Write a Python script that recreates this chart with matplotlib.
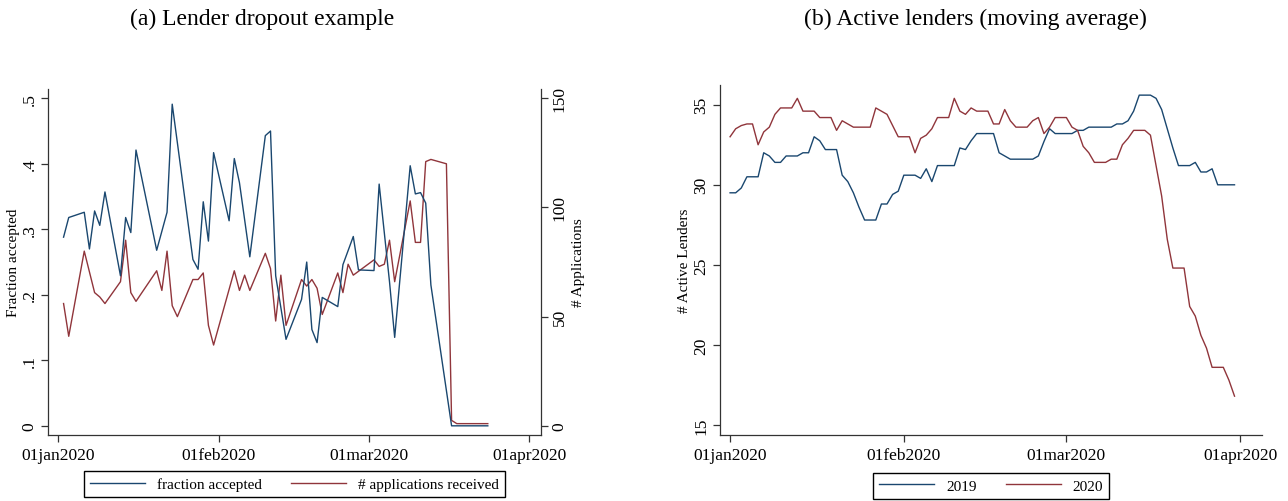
import matplotlib
matplotlib.use("Agg")
import matplotlib.pyplot as plt
import matplotlib.dates as mdates
import numpy as np

plt.rcParams['font.family'] = ['Liberation Serif', 'DejaVu Serif']

NAVY = "#1a476f"
MAROON = "#90353b"

start = np.datetime64("2020-01-01")

# panel (a): days since 01jan2020
frac_days = [1, 2, 5, 6, 7, 8, 9, 12, 13, 14, 15, 19, 21, 22, 23, 26, 27, 28, 29, 30,
             33, 34, 35, 37, 40, 41, 42, 44, 47, 48, 49, 50, 51, 54, 55, 57, 58, 61, 62, 64,
             65, 68, 69, 70, 71, 72, 76, 83]
frac_vals = [.288, .318, .326, .27, .328, .306, .357, .229, .318, .295,
             .421, .268, .326, .491, .432, .254, .239, .342, .282, .417,
             .313, .408, .371, .258, .443, .450, .229, .132, .193, .250,
             .147, .127, .196, .182, .246, .289, .238, .237, .369, .220,
             .135, .397, .354, .356, .340, .215, 0.0, 0.0]
app_days = [1, 2, 5, 7, 8, 9, 12, 13, 14, 15, 19, 20, 21, 22, 23, 26, 27, 28, 29, 30,
            34, 35, 36, 37, 40, 41, 42, 43, 44, 47, 48, 49, 50, 51, 54, 55, 56, 57, 61, 62,
            63, 64, 65, 68, 69, 70, 71, 72, 75, 76, 77, 83]
app_vals = [56, 41, 80, 61, 59, 56, 66, 85, 61, 57, 71, 62, 80, 55, 50, 67, 67, 70, 46, 37,
            71, 62, 69, 62, 79, 72, 48, 69, 46, 67, 64, 67, 63, 51, 70, 61, 74, 69, 76, 73,
            74, 85, 66, 103, 84, 84, 121, 122, 120, 2.5, 1, 1]

# panel (b): moving average of active lenders, day offset in the year
y2019_days = [0, 1, 2, 3, 5, 6, 7, 8, 9, 10, 12, 13, 14, 15, 16, 17, 19, 20, 21, 22,
              23, 24, 26, 27, 28, 29, 30, 31, 33, 34, 35, 36, 37, 40, 41, 42, 43, 44, 47, 48,
              49, 50, 54, 55, 56, 57, 58, 61, 62, 63, 64, 68, 69, 70, 71, 72, 73, 75, 76, 77,
              78, 79, 80, 82, 83, 84, 85, 86, 87, 90]
y2019_vals = [29.5, 29.5, 29.8, 30.5, 30.5, 32.0, 31.8, 31.4, 31.4, 31.8,
              31.8, 32.0, 32.0, 33.0, 32.75, 32.2, 32.2, 30.6, 30.2, 29.5,
              28.6, 27.8, 27.8, 28.8, 28.8, 29.4, 29.6, 30.6, 30.6, 30.4,
              31.0, 30.2, 31.2, 31.2, 32.3, 32.2, 32.75, 33.2, 33.2, 32.0,
              31.8, 31.6, 31.6, 31.8, 32.7, 33.5, 33.2, 33.2, 33.4, 33.4,
              33.6, 33.6, 33.8, 33.8, 34.0, 34.6, 35.6, 35.6, 35.4, 34.7,
              33.5, 32.3, 31.2, 31.2, 31.4, 30.8, 30.8, 31.0, 30.0, 30.0]
y2020_days = [0, 1, 2, 3, 4, 5, 6, 7, 8, 9, 11, 12, 13, 15, 16, 18, 19, 20, 22, 25,
              26, 28, 30, 32, 33, 34, 35, 36, 37, 39, 40, 41, 42, 43, 44, 46, 47, 48, 49, 50,
              51, 53, 54, 55, 56, 57, 58, 60, 61, 62, 63, 64, 65, 67, 68, 69, 70, 71, 72, 74,
              75, 76, 77, 78, 79, 81, 82, 83, 84, 85, 86, 88, 89, 90]
y2020_vals = [33.0, 33.5, 33.7, 33.8, 33.8, 32.5, 33.3, 33.6, 34.4, 34.8,
              34.8, 35.4, 34.6, 34.6, 34.2, 34.2, 33.4, 34.0, 33.6, 33.6,
              34.8, 34.4, 33.0, 33.0, 32.0, 32.9, 33.1, 33.5, 34.2, 34.2,
              35.4, 34.6, 34.4, 34.8, 34.6, 34.6, 33.8, 33.8, 34.7, 34.0,
              33.6, 33.6, 34.0, 34.2, 33.2, 33.6, 34.2, 34.2, 33.6, 33.4,
              32.4, 32.0, 31.4, 31.4, 31.6, 31.6, 32.5, 32.9, 33.4, 33.4,
              33.1, 31.2, 29.3, 26.6, 24.8, 24.8, 22.4, 21.8, 20.6, 19.8,
              18.6, 18.6, 17.8, 16.8]

xtick_dates = ["2020-01-01", "2020-02-01", "2020-03-01", "2020-04-01"]
xtick_labels = ["01jan2020", "01feb2020", "01mar2020", "01apr2020"]


def to_dates(days):
    return (start + np.array(days, dtype="timedelta64[D]")).astype("datetime64[D]")


def style_axis(ax):
    ax.spines['top'].set_visible(False)
    for s in ax.spines.values():
        s.set_linewidth(0.9)
        s.set_color("#333333")
    ax.tick_params(direction='out', length=5, width=0.9, labelsize=12.5, color="#333333")
    ax.tick_params(axis='y', pad=2.5)
    ax.set_xticks([mdates.date2num(np.datetime64(d)) for d in xtick_dates])
    ax.set_xticklabels(xtick_labels)


leg_kw = dict(loc='upper center', ncol=2, fontsize=11, frameon=True, fancybox=False,
              edgecolor='black', framealpha=1, handlelength=3.6, columnspacing=1.9,
              borderpad=0.4, handletextpad=0.8, borderaxespad=0)

fig = plt.figure(figsize=(12.88, 5.02), dpi=100)

# (a)
ax = fig.add_axes([0.0373, 0.1315, 0.3828, 0.689])
lf, = ax.plot(to_dates(frac_days), frac_vals, color=NAVY, lw=1.0, label="fraction accepted")
ax.set_xlim(mdates.date2num(start) - 2.0, mdates.date2num(start) + 93.3)
ax.set_ylim(-0.014, 0.514)
ax.set_yticks([0, .1, .2, .3, .4, .5])
ax.set_yticklabels(["0", ".1", ".2", ".3", ".4", ".5"], rotation=90, va='center')
ax.set_ylabel("Fraction accepted", fontsize=11, labelpad=1)
style_axis(ax)
ax.spines['right'].set_visible(False)

ax2 = ax.twinx()
la, = ax2.plot(to_dates(app_days), app_vals, color=MAROON, lw=1.0, label="# applications received")
ax2.set_ylim(-0.014 * 300, 0.514 * 300)
ax2.set_yticks([0, 50, 100, 150])
ax2.set_yticklabels(["0", "50", "100", "150"], rotation=90, va='center')
ax2.set_ylabel("# Applications", fontsize=11, labelpad=3)
style_axis(ax2)
ax2.spines['left'].set_visible(False)
ax2.spines['bottom'].set_visible(False)
ax.set_zorder(ax2.get_zorder() + 1)
ax.patch.set_visible(False)

fig.legend(handles=[lf, la], bbox_to_anchor=(0.2287, 1 - 472 / 502), **leg_kw)
fig.text(262 / 1288, 1 - 19 / 502, "(a) Lender dropout example", ha='center', va='center', fontsize=17)

# (b)
bx = fig.add_axes([0.559, 0.132, 0.4208, 0.6966])
l19, = bx.plot(to_dates(y2019_days), y2019_vals, color=NAVY, lw=1.0, label="2019")
l20, = bx.plot(to_dates(y2020_days), y2020_vals, color=MAROON, lw=1.0, label="2020")
bx.set_xlim(mdates.date2num(start) - 1.8, mdates.date2num(start) + 94.9)
bx.set_ylim(14.39, 36.23)
bx.set_yticks([15, 20, 25, 30, 35])
bx.set_yticklabels(["15", "20", "25", "30", "35"], rotation=90, va='center')
bx.set_ylabel("# Active Lenders", fontsize=11, labelpad=2)
style_axis(bx)
bx.spines['right'].set_visible(False)

fig.legend(handles=[l19, l20], bbox_to_anchor=(0.7695, 1 - 474 / 502), **leg_kw)
fig.text(975 / 1288, 1 - 19 / 502, "(b) Active lenders (moving average)", ha='center', va='center', fontsize=17)

fig.savefig("out.png", dpi=100)
